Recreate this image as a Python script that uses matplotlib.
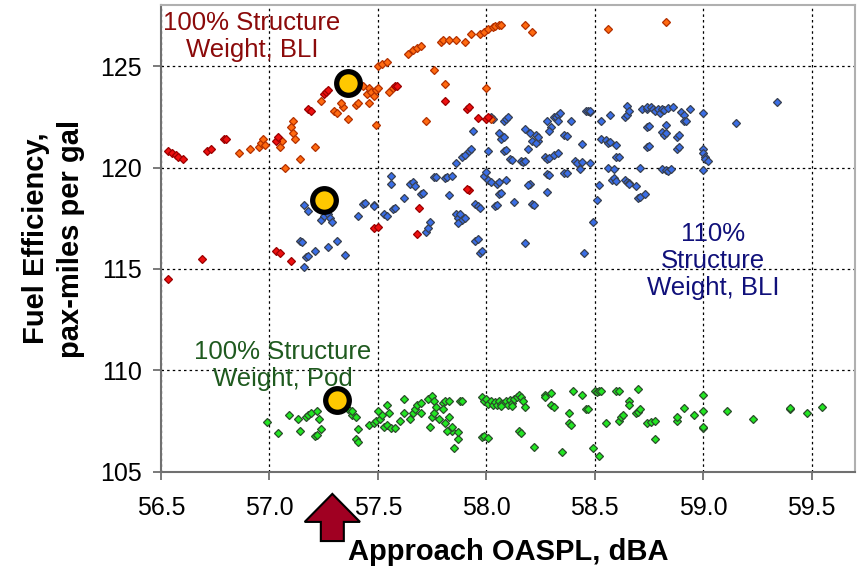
import matplotlib
matplotlib.use("Agg")
import matplotlib.pyplot as plt
import matplotlib.patches as mpatches
import matplotlib.transforms as mtransforms

plt.rcParams['font.family'] = ['Liberation Sans', 'DejaVu Sans']

# 100% structure weight, BLI (orange points)
bli_orange_x = [56.86, 56.91, 56.95, 56.96, 56.97, 56.98, 57.05, 57.06, 57.11, 57.10, 57.11, 57.12,
                57.07, 57.14, 57.21, 57.24, 57.30, 57.31, 57.34, 57.33, 57.36, 57.40, 57.41, 57.43,
                57.45, 57.46, 57.47, 57.48, 57.49, 57.50, 57.46, 57.49, 57.50, 57.52, 57.54, 57.64,
                57.66, 57.68, 57.70, 57.79, 57.80, 57.83, 57.86, 57.90, 57.93, 57.97, 57.99, 58.01,
                58.03, 58.04, 58.06, 58.07, 58.18, 58.21, 58.56, 58.83, 57.76, 57.81, 58.00, 57.72,
                58.02, 57.38, 57.39, 57.55, 57.57]
bli_orange_y = [120.7, 120.9, 121.0, 121.2, 121.4, 121.1, 121.0, 121.3, 122.3, 122.0, 121.7, 121.4,
                120.0, 120.4, 121.0, 123.3, 122.8, 122.7, 123.0, 123.2, 122.4, 123.1, 123.2, 124.0,
                123.6, 123.9, 123.7, 123.5, 123.8, 123.9, 123.2, 122.1, 125.0, 125.1, 125.2, 125.6,
                125.8, 125.9, 126.0, 126.2, 126.3, 126.3, 126.3, 126.2, 126.6, 126.6, 126.7, 126.8,
                126.9, 126.95, 127.0, 127.0, 127.0, 126.7, 126.8, 127.16, 124.8, 124.1, 123.9, 122.3,
                122.4, 123.8, 124.1, 123.7, 123.9]

# 100% structure weight, BLI (red points)
bli_red_x = [56.53, 56.55, 56.57, 56.58, 56.60, 56.71, 56.73, 56.79, 56.80, 57.03, 57.04, 57.18,
             57.19, 57.25, 57.26, 57.27, 57.58, 57.59, 57.81, 57.91, 57.92, 57.96, 58.00, 58.01,
             57.92, 56.53, 56.69, 57.03, 57.05, 57.10, 57.48, 57.50, 57.68, 57.69, 57.91]
bli_red_y = [120.8, 120.7, 120.6, 120.5, 120.4, 120.8, 120.9, 121.4, 121.4, 121.3, 121.5, 122.9,
             122.8, 123.6, 123.7, 123.8, 124.0, 124.0, 123.3, 122.9, 123.0, 122.45, 122.4, 122.5,
             118.9, 114.5, 115.5, 115.9, 115.8, 115.4, 117.0, 117.05, 116.7, 118.0, 118.93]

# 110% structure weight, BLI
bli110_x = [57.16, 57.18, 57.24, 57.25, 57.27, 57.28, 57.29, 57.14, 57.15, 57.17, 57.18, 57.16,
            57.21, 57.27, 57.31, 57.35, 57.41, 57.43, 57.44, 57.48, 57.48, 57.53, 57.54, 57.57,
            57.58, 57.56, 57.56, 57.62, 57.65, 57.66, 57.67, 57.70, 57.71, 57.72, 57.73, 57.74,
            57.76, 57.77, 57.81, 57.82, 57.84, 57.83, 57.86, 57.86, 57.87, 57.88, 57.89, 57.90,
            57.87, 57.89, 57.90, 57.92, 57.93, 57.94, 57.95, 57.96, 57.95, 57.96, 57.97, 57.97,
            57.98, 57.99, 58.00, 58.01, 58.02, 58.01, 58.02, 58.03, 58.05, 58.06, 58.06, 58.07,
            58.08, 58.08, 58.09, 58.11, 58.12, 58.08, 58.09, 58.10, 58.04, 58.05, 58.06, 58.07,
            58.09, 58.13, 58.16, 58.17, 58.18, 58.18, 58.20, 58.20, 58.21, 58.22, 58.18, 58.23,
            58.24,
            58.19, 58.21, 58.23, 58.24, 58.28, 58.30, 58.29, 58.31, 58.32, 58.33, 58.34, 58.33,
            58.36, 58.37, 58.39, 58.27, 58.28, 58.29, 58.31, 58.33, 58.28, 58.29, 58.36, 58.37,
            58.41, 58.42, 58.43, 58.44, 58.44, 58.46, 58.47, 58.48, 58.48, 58.48, 58.19, 58.28,
            58.45, 58.49, 58.51, 58.52, 58.53, 58.53, 58.55, 58.56, 58.57, 58.60, 58.60, 58.61,
            58.56, 58.59, 58.57, 58.58, 58.59, 58.60, 58.64, 58.65, 58.66, 58.66, 58.69, 58.70,
            58.71, 58.73, 58.64, 58.65, 58.65, 58.66, 58.71, 58.72, 58.74, 58.74, 58.76, 58.77,
            58.78, 58.79, 58.80, 58.81, 58.82, 58.84, 58.86, 58.74, 58.75, 58.74, 58.75, 58.81,
            58.82, 58.83, 58.83, 58.88, 58.89, 58.88, 58.89, 58.90, 58.91, 58.91, 58.92, 58.94,
            58.81, 58.83, 58.84, 58.85, 59.00, 59.00, 59.01, 59.01, 59.02, 59.00, 59.00, 59.15,
            59.34]
bli110_y = [118.13, 117.84, 117.4, 117.6, 117.7, 117.5, 117.3, 116.4, 116.35, 115.6, 115.65, 115.1,
            115.9, 116.1, 116.4, 115.7, 117.6, 118.2, 118.25, 118.15, 118.1, 117.7, 117.6, 117.95,
            118.0, 119.56, 119.2, 118.5, 119.2, 119.3, 119.1, 118.7, 118.75, 116.8, 117.0, 117.3,
            119.55, 119.55, 119.5, 119.55, 119.6, 118.65, 120.2, 117.7, 117.5, 117.7, 117.4, 117.5,
            117.25, 120.5, 120.6, 120.8, 120.9, 121.8, 116.4, 116.5, 118.2, 118.1, 118.0, 115.8,
            115.9, 119.6, 119.8, 119.4, 119.3, 120.8, 122.5, 122.4, 119.2, 119.3, 121.7, 121.4,
            121.5, 120.8, 120.85, 120.4, 120.35, 122.3, 122.4, 122.5, 118.1, 118.15, 118.7, 118.75,
            119.4, 118.3, 120.3, 120.25, 120.3, 121.9, 121.7, 119.2, 118.2, 118.15, 116.3, 121.6,
            121.3,
            120.9, 121.3, 121.2, 121.5, 122.3, 122.0, 121.8, 122.5, 122.5, 122.6, 122.7, 122.3,
            121.6, 121.55, 122.3, 120.5, 120.4, 120.45, 120.6, 120.7, 119.7, 119.65, 119.75, 119.75,
            120.3, 120.2, 119.95, 120.25, 121.15, 122.8, 122.8, 122.75, 122.8, 120.2, 119.15, 118.8,
            115.8, 117.3, 118.4, 119.15, 122.3, 121.4, 121.35, 121.2, 121.25, 121.1, 120.5, 120.5,
            120.0, 119.95, 122.6, 119.4, 119.5, 119.35, 119.4, 119.3, 119.25, 119.2, 119.1, 118.5,
            118.55, 118.7, 122.5, 122.6, 123.05, 122.8, 120.0, 122.9, 122.9, 123.0, 123.0, 122.9,
            122.8, 122.9, 122.7, 122.9, 122.85, 122.95, 123.0, 122.0, 122.05, 121.0, 121.05, 121.75,
            121.6, 121.7, 122.1, 121.5, 121.6, 120.9, 121.0, 122.75, 122.6, 122.3, 122.3, 122.9,
            119.95, 119.9, 119.85, 119.95, 120.9, 120.7, 120.5, 120.4, 120.3, 119.9, 122.7, 122.2,
            123.25]

# 100% structure weight, Pod
pod_x = [56.99, 57.04, 57.09, 57.13, 57.14, 57.17, 57.18, 57.19, 57.22, 57.23, 57.21, 57.22,
         57.24, 57.36, 57.38, 57.40, 57.38, 57.40, 57.41, 57.41, 57.46, 57.48, 57.49, 57.51,
         57.52, 57.50, 57.53, 57.54, 57.55, 57.54, 57.56, 57.58, 57.60, 57.62, 57.62, 57.65,
         57.66, 57.67, 57.68, 57.70, 57.70, 57.73, 57.75, 57.76, 57.74, 57.75, 57.76, 57.77,
         57.78, 57.80, 57.80, 57.81, 57.83, 57.81, 57.83, 57.84, 57.84, 57.82, 57.87, 57.88,
         57.87, 57.85, 57.89, 57.98, 57.99, 58.00, 58.01, 58.02, 58.03, 58.04, 58.05, 58.06,
         58.07, 58.08, 58.09, 58.10, 58.11, 58.12, 58.13, 58.14, 58.15, 58.16, 58.17, 58.18,
         58.12, 58.07, 57.98, 57.99, 58.01, 58.15, 58.16, 58.22, 58.27, 58.30, 58.27, 58.30,
         58.31, 58.38, 58.38, 58.39, 58.40, 58.44, 58.35, 58.46, 58.47, 58.49, 58.52, 58.50,
         58.51, 58.52, 58.53, 58.55, 58.60, 58.61, 58.61, 58.62, 58.63, 58.66, 58.66, 58.69,
         58.70, 58.70, 58.71, 58.74, 58.76, 58.78, 58.78, 58.88, 58.88, 58.91, 58.96, 59.00,
         59.00, 59.00, 59.00, 59.11, 59.23, 59.40, 59.40, 59.48, 59.55]
pod_y = [107.44, 106.94, 107.83, 107.6, 107.0, 107.7, 107.8, 107.9, 108.0, 107.6, 106.75, 106.8,
         107.1, 108.1, 107.8, 107.7, 108.0, 106.6, 106.5, 107.1, 107.3, 107.4, 107.5, 107.6,
         107.8, 108.0, 107.2, 107.3, 107.9, 108.3, 107.15, 107.15, 107.5, 107.9, 108.6, 107.6,
         107.9, 108.1, 108.3, 108.4, 107.9, 108.6, 108.75, 108.5, 107.2, 107.7, 107.9, 108.2,
         107.6, 108.4, 108.1, 108.5, 108.5, 107.4, 107.7, 107.0, 107.2, 107.0, 106.6, 108.5,
         106.95, 106.2, 108.5, 108.7, 108.5, 108.6, 108.35, 108.5, 108.3, 108.45, 108.3, 108.5,
         108.35, 108.4, 108.5, 108.3, 108.55, 108.4, 108.6, 108.7, 108.8, 108.7, 108.5, 108.2,
         108.25, 108.25, 106.7, 106.75, 106.65, 107.0, 106.9, 106.25, 108.8, 108.9, 108.7, 108.3,
         108.2, 107.4, 107.9, 107.3, 109.0, 108.8, 106.0, 108.1, 108.1, 106.2, 105.8, 109.0,
         108.95, 109.0, 109.0, 107.4, 109.0, 109.0, 107.5, 107.7, 107.8, 108.5, 108.3, 107.9,
         107.95, 109.1, 108.1, 107.4, 107.45, 107.5, 106.6, 107.5, 107.7, 108.15, 107.8, 108.8,
         108.0, 107.15, 107.2, 108.0, 107.6, 108.1, 108.15, 107.9, 108.2]

# baseline designs (yellow circles)
base_x = [57.36, 57.25, 57.31]
base_y = [124.16, 118.4, 108.53]

fig = plt.figure(figsize=(8.61, 5.70), dpi=100)
ax = fig.add_axes([0.187, 0.172, 0.806, 0.819])

dot = dict(linestyle='none', marker='D', markersize=4.0, markeredgewidth=0.9)
ax.plot(pod_x, pod_y, color='#22e622', markeredgecolor='#2a4d2a', **dot)
ax.plot(bli110_x, bli110_y, color='#3a6ee6', markeredgecolor='#38404f', **dot)
ax.plot(bli_orange_x, bli_orange_y, color='#ff6a10', markeredgecolor='#b33000', **dot)
ax.plot(bli_red_x, bli_red_y, color='#ee1010', markeredgecolor='#9a0000', **dot)
ax.plot(base_x, base_y, linestyle='none', marker='o', markersize=17,
        markerfacecolor='#ffc800', markeredgecolor='black', markeredgewidth=3.8, zorder=5)

ax.text(56.92, 126.44, '100% Structure\nWeight, BLI', color='#8b0a0a', fontsize=18.5,
        ha='center', va='center', linespacing=1.15)
ax.text(59.045, 115.4, '110%\nStructure\nWeight, BLI', color='#10107a', fontsize=18.5,
        ha='center', va='center', linespacing=1.15)
ax.text(57.06, 110.25, '100% Structure\nWeight, Pod', color='#1f5a1f', fontsize=18.5,
        ha='center', va='center', linespacing=1.15)

ax.set_xlim(56.5, 59.7)
ax.set_ylim(105, 128)
ax.set_xticks([56.5, 57.0, 57.5, 58.0, 58.5, 59.0, 59.5])
ax.set_xticklabels(['56.5', '57.0', '57.5', '58.0', '58.5', '59.0', '59.5'])
ax.set_yticks([105, 110, 115, 120, 125])
ax.grid(True, color='black', linestyle=(0, (2, 2.5)), linewidth=0.9)
ax.set_axisbelow(True)

for side in ['top', 'right']:
    ax.spines[side].set_color('#b0b0b0')
    ax.spines[side].set_linewidth(1.5)
for side in ['left', 'bottom']:
    ax.spines[side].set_color('#707070')
    ax.spines[side].set_linewidth(1.5)

ax.tick_params(axis='y', length=6, width=1.3, color='#707070', pad=8, labelsize=18)
ax.tick_params(axis='x', length=6, width=1.3, color='#707070', pad=11, labelsize=18)

ax.set_xlabel('Approach OASPL, dBA', fontsize=21, fontweight='bold')
ax.set_ylabel('Fuel Efficiency,\npax-miles per gal', fontsize=21, fontweight='bold',
              linespacing=1.3)
ax.xaxis.set_label_coords(0.5, -0.142)
ax.yaxis.set_label_coords(-0.11, 0.5)

# red arrow pointing at the baseline noise level
trans = mtransforms.blended_transform_factory(ax.transData, ax.transAxes)
arrow = mpatches.FancyArrow(57.29, -0.148, 0, 0.101, width=0.106, head_width=0.255,
                            head_length=0.06, length_includes_head=True,
                            facecolor='#a00022', edgecolor='black', linewidth=1.5,
                            transform=trans, clip_on=False)
ax.add_patch(arrow)

fig.savefig('out.png', dpi=100)
